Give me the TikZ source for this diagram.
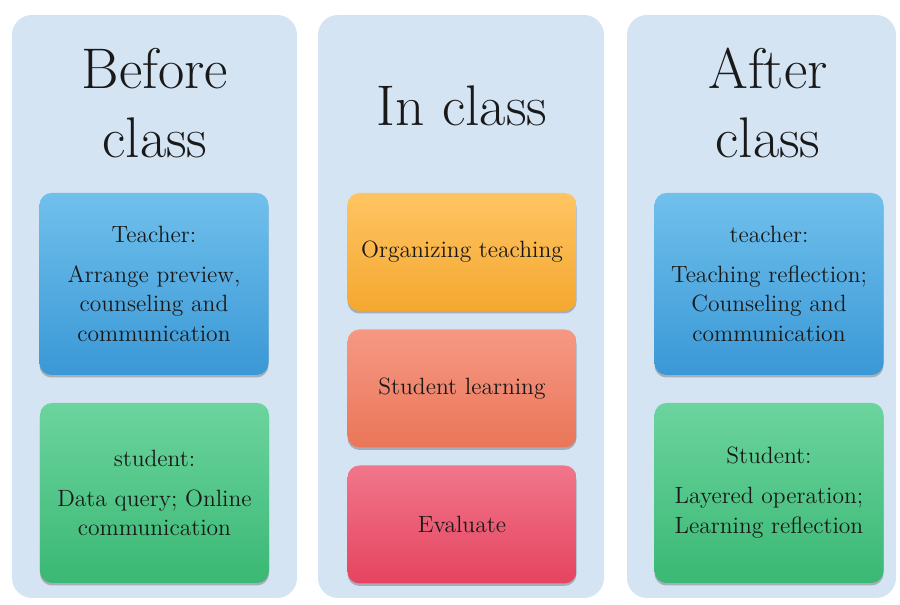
\documentclass[tikz,border=0pt]{standalone}
\usepackage{tikz}
\usetikzlibrary{shapes,shadows}

\definecolor{panelblue}{RGB}{213,228,243}
\definecolor{teachtop}{RGB}{112,192,236}
\definecolor{teachbot}{RGB}{58,152,214}
\definecolor{studtop}{RGB}{108,212,158}
\definecolor{studbot}{RGB}{58,184,116}
\definecolor{orgtop}{RGB}{255,196,98}
\definecolor{orgbot}{RGB}{244,168,48}
\definecolor{learntop}{RGB}{246,152,132}
\definecolor{learnbot}{RGB}{234,118,88}
\definecolor{evaltop}{RGB}{241,118,138}
\definecolor{evalbot}{RGB}{229,68,96}

\begin{document}
\begin{tikzpicture}[text=black!90]
 	\def \toprowht{6.42cm}
 	\def \botrowht{2.24cm}
 	\tikzstyle{panel}=[rectangle,rounded corners=0.4cm,fill=panelblue,minimum height=11.66cm,inner sep=0pt]
 	\tikzstyle{annot}=[align=center,inner sep=0pt,font=\fontsize{32.6}{39.3}\selectfont]
 	\tikzstyle{box}=[rectangle,rounded corners=0.24cm,minimum width=4.58cm,align=center,
 		font=\fontsize{13.4}{17}\selectfont,
 		drop shadow={shadow xshift=0pt,shadow yshift=-0.05cm,opacity=0.35,fill=black!70}]
 	\tikzstyle{teach-box}=[box,minimum height=3.64cm,top color=teachtop,bottom color=teachbot]
 	\tikzstyle{stud-box}=[box,minimum height=3.6cm,top color=studtop,bottom color=studbot]
 	\tikzstyle{step-box}=[box,minimum height=2.36cm]
 	\useasboundingbox (0,0) rectangle (18,12.1);

 	% panels
 	\node[panel,minimum width=5.7cm] 	(before)	at (3.09cm,5.97cm)	{};
 	\node[panel,minimum width=5.72cm] 	(during)	at (9.22cm,5.97cm)	{};
 	\node[panel,minimum width=5.38cm] 	(after)	at (15.23cm,5.97cm)	{};

 	% labels
 	\node[annot,anchor=north] 	(before-label)	at (3.1cm,11.14cm)	{Before\\class};
 	\node[annot,anchor=north] 	(during-label)	at (9.24cm,10.4cm)	{In class};
 	\node[annot,anchor=north] 	(after-label)	at (15.36cm,11.14cm)	{After\\class};

 	% before class
 	\node[teach-box] 	(b-teach)	at (3.08cm,\toprowht)	{Teacher:\\[0.2cm]Arrange preview,\\counseling and\\communication};
 	\node[stud-box] 	(b-stud)	at (3.09cm,\botrowht)	{student:\\[0.2cm]Data query; Online\\communication};

 	% in class
 	\node[step-box,top color=orgtop,bottom color=orgbot] 	(organize)	at (9.24cm,7.06cm)	{Organizing teaching};
 	\node[step-box,top color=learntop,bottom color=learnbot] 	(learn)	at (9.24cm,4.33cm)	{Student learning};
 	\node[step-box,top color=evaltop,bottom color=evalbot] 	(evaluate)	at (9.24cm,1.61cm)	{Evaluate};

 	% after class
 	\node[teach-box] 	(a-teach)	at (15.38cm,\toprowht)	{teacher:\\[0.2cm]Teaching reflection;\\Counseling and\\communication};
 	\node[stud-box] 	(a-stud)	at (15.38cm,\botrowht)	{Student:\\[0.2cm]Layered operation;\\Learning reflection};
\end{tikzpicture}
\end{document}
